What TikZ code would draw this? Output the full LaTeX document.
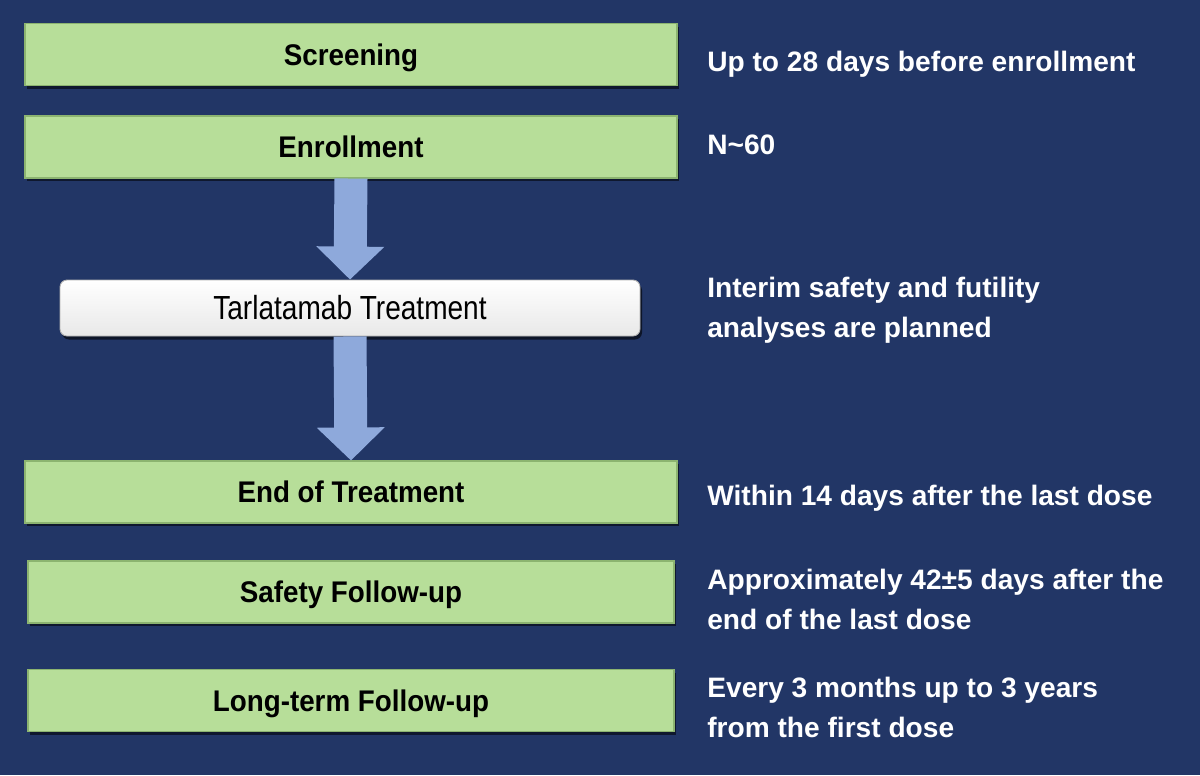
\documentclass[tikz,border=0pt]{standalone}
\usepackage{fontspec}
\setmainfont{Liberation Sans}
\newfontfamily\boxfont[FakeStretch=0.93]{Liberation Sans}
\newfontfamily\narrowfont[FakeStretch=0.84]{Liberation Sans}
\usetikzlibrary{shadows, arrows.meta}

\definecolor{bgnavy}{RGB}{34,54,102}
\definecolor{stagegreen}{RGB}{183,222,153}
\definecolor{stageedge}{RGB}{140,180,112}
\definecolor{flowblue}{RGB}{142,169,219}

\begin{document}
\begin{tikzpicture}[
        stage/.style={rectangle, draw=stageedge, line width=0.6pt, fill=stagegreen, minimum width=13.04cm, minimum height=1.24cm, inner sep=0pt, text height=12.2pt, text depth=0pt, font=\boxfont\bfseries\fontsize{17}{20}\selectfont, text=black, drop shadow={shadow xshift=0.03cm, shadow yshift=-0.06cm, opacity=0.55, fill=black}},
        drug/.style={rectangle, rounded corners=4pt, draw=gray!60, line width=0.5pt, top color=white, bottom color=gray!18, minimum width=11.6cm, minimum height=1.12cm, inner sep=0pt, font=\narrowfont\fontsize{19}{22}\selectfont, text=black, drop shadow={shadow xshift=0.04cm, shadow yshift=-0.07cm, opacity=0.6, fill=black}},
        flow/.style={draw=flowblue, line width=0.66cm, -{Triangle[length=0.66cm, width=1.32cm]}},
        note/.style={anchor=north west, inner sep=0pt, align=left, text=white, font=\bfseries\fontsize{16}{22.8}\selectfont}
    ]
        \useasboundingbox[fill=bgnavy] (0,0) rectangle (24,-15.5);
        % stages
        \node[stage] (screen) at (7.02, -1.09) {Screening};
        \node[stage] (enroll) at (7.02, -2.94) {Enrollment};
        \node[drug] (tarla) at (7.0, -6.16) {Tarlatamab Treatment};
        \node[stage] (eot) at (7.02, -9.84) {End of Treatment};
        \node[stage, minimum width=12.92cm] (safety) at (7.02, -11.84) {Safety Follow-up};
        \node[stage, minimum width=12.92cm] (longterm) at (7.02, -14.01) {Long-term Follow-up};
        \draw[flow] (enroll.south) -- (tarla.north);
        \draw[flow] (tarla.south) -- (eot.north);
        % timing notes
        \node[note] (screennote) at (14.14, -1.01) {Up to 28 days before enrollment};
        \node[note] (enrollnote) at (14.14, -2.69) {N\textasciitilde60};
        \node[note] (tarlanote) at (14.14, -5.53) {Interim safety and futility\\analyses are planned};
        \node[note] (eotnote) at (14.14, -9.69) {Within 14 days after the last dose};
        \node[note] (safetynote) at (14.14, -11.37) {Approximately 42±5 days after the\\end of the last dose};
        \node[note] (longtermnote) at (14.14, -13.53) {Every 3 months up to 3 years\\from the first dose};
    \end{tikzpicture}
\end{document}
